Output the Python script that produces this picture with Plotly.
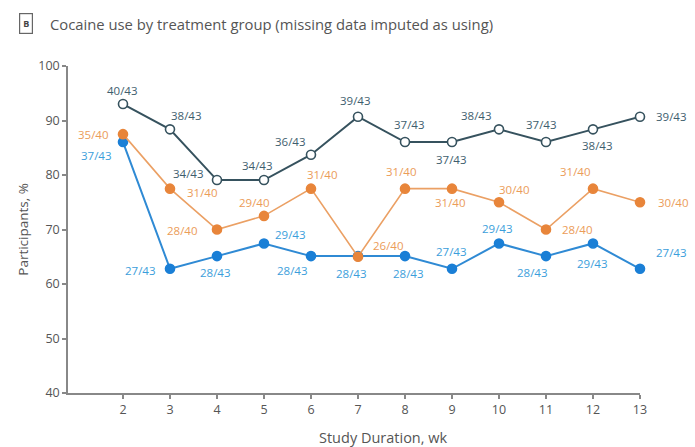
import plotly.graph_objects as go

# Study weeks
weeks = [2, 3, 4, 5, 6, 7, 8, 9, 10, 11, 12, 13]

# Participants using cocaine per week (count / group size)
gray_n = [40, 38, 34, 34, 36, 39, 37, 37, 38, 37, 38, 39]
gray_total = 43
orange_n = [35, 31, 28, 29, 31, 26, 31, 31, 30, 28, 31, 30]
orange_total = 40
blue_n = [37, 27, 28, 29, 28, 28, 28, 27, 29, 28, 29, 27]
blue_total = 43

y_ticks = [40, 50, 60, 70, 80, 90, 100]

# Label offsets in pixels (dx right, dy up) for each point of each series
gray_off = [(0, 14), (17, 14), (-28, 7), (-6, 15), (-20, 13), (-3, 16),
            (4, 18), (-1, -17), (-23, 14), (-5, 18), (4, -16), (31, 0)]
orange_off = [(-29, 0), (33, -4), (-34, -1), (-9, 13), (12, 14), (30, 11),
              (-4, 17), (-2, -14), (15, 13), (31, 0), (-18, 17), (33, 0)]
blue_off = [(-26, -13), (-29, -2), (-1, -16), (27, 9), (-18, -14), (-7, -17),
            (3, -17), (-1, 17), (-2, 15), (-14, -16), (-1, -20), (31, 16)]

FONT = "Open Sans"

series = [
    dict(n=blue_n, total=blue_total, off=blue_off, line="#2f8ad4", marker="#1a7fd6",
         fill="#1a7fd6", text="#3b9edb", lw=2),
    dict(n=orange_n, total=orange_total, off=orange_off, line="#eba064", marker="#e8853a",
         fill="#e8853a", text="#eb9c58", lw=1.6),
    dict(n=gray_n, total=gray_total, off=gray_off, line="#36525e", marker="#36525e",
         fill="white", text="#3e5e6e", lw=2),
]

fig = go.Figure()
annotations = []
for s in series:
    pct = [100 * v / s["total"] for v in s["n"]]
    fig.add_trace(go.Scatter(
        x=weeks, y=pct, mode="lines+markers",
        line=dict(color=s["line"], width=s["lw"]),
        marker=dict(size=9, color=s["fill"], line=dict(color=s["marker"], width=1.6)),
        cliponaxis=False, showlegend=False, hoverinfo="skip",
    ))
    for x, y, v, (dx, dy) in zip(weeks, pct, s["n"], s["off"]):
        annotations.append(dict(
            x=x, y=y, xref="x", yref="y", text=f"{v}/{s['total']}",
            showarrow=False, xanchor="center", yanchor="middle",
            xshift=dx, yshift=dy,
            font=dict(family=FONT, size=11.5, color=s["text"]),
        ))

# Panel letter box and title
annotations.append(dict(
    x=-0.074, y=1.131, xref="paper", yref="paper", text="<b>B</b>",
    showarrow=False, xanchor="center", yanchor="middle",
    font=dict(family=FONT, size=9, color="#444"),
    bordercolor="#666", borderwidth=1.2, borderpad=3,
))
annotations.append(dict(
    x=-0.035, y=1.128, xref="paper", yref="paper",
    text="Cocaine use by treatment group (missing data imputed as using)",
    showarrow=False, xanchor="left", yanchor="middle",
    font=dict(family=FONT, size=14.8, color="#555"),
))
# Axis titles
annotations.append(dict(
    x=-0.080, y=0.5, xref="paper", yref="paper", text="Participants, %",
    showarrow=False, textangle=-90, xanchor="center", yanchor="middle",
    font=dict(family=FONT, size=13.5, color="#555"),
))
annotations.append(dict(
    x=0.551, y=-0.135, xref="paper", yref="paper", text="Study Duration, wk",
    showarrow=False, xanchor="center", yanchor="middle",
    font=dict(family=FONT, size=14.5, color="#555"),
))

fig.update_layout(
    width=695, height=447,
    margin=dict(l=68, r=55, t=66, b=54),
    paper_bgcolor="white", plot_bgcolor="white",
    annotations=annotations,
    font=dict(family=FONT, color="#555"),
)
fig.update_xaxes(
    range=[0.83, 13], tickmode="array", tickvals=weeks,
    showline=True, linecolor="#888", linewidth=1.5,
    ticks="outside", ticklen=4, tickcolor="#888", tickwidth=1.5,
    showgrid=False, zeroline=False,
    tickfont=dict(family=FONT, size=12.5, color="#555"),
)
fig.update_yaxes(
    range=[40, 100], tickmode="array", tickvals=y_ticks,
    showline=True, linecolor="#888", linewidth=1.5,
    ticks="outside", ticklen=4, tickcolor="#888", tickwidth=1.5,
    showgrid=False, zeroline=False,
    tickfont=dict(family=FONT, size=12.5, color="#555"),
)

fig.write_html("out.html")
